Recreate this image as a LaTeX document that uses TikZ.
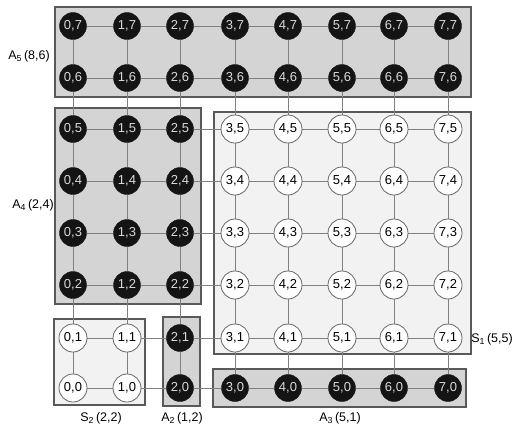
\documentclass[tikz,border=0pt]{standalone}
\usepackage{fontspec}
\setmainfont{Liberation Sans}
\usetikzlibrary{backgrounds}
\begin{document}
\begin{tikzpicture}[x=1pt,y=-1pt,
  blk/.style={circle, fill=black!92, draw=black!92, minimum size=27pt, inner sep=0pt, text=white!85!black, font=\fontsize{13}{15}\selectfont},
  wht/.style={circle, fill=white, draw=black!60, line width=0.8pt, minimum size=28pt, inner sep=0pt, text=black, font=\fontsize{13}{15}\selectfont},
  grp/.style={draw=black!65, line width=1.2pt, fill=black!17},
  sgrp/.style={draw=black!65, line width=1.2pt, fill=black!5},
  link/.style={draw=black!50, line width=0.9pt},
  lbl/.style={font=\fontsize{12.5}{14}\selectfont, inner sep=0pt}]
\useasboundingbox (0,0) rectangle (512,424);
\foreach \i/\px in {0/73,1/127,2/180,3/235,4/288,5/342,6/394,7/448}{
  \foreach \j/\py in {0/388,1/338,2/285,3/233,4/181,5/129,6/78,7/26}{
    \pgfmathtruncatemacro\isw{((\i>=3) && (\j>=1) && (\j<=5)) || ((\i<=1) && (\j<=1))}
    \ifnum\isw=1
      \node[wht] (n\i\j) at (\px,\py) {\i,\j};
    \else
      \node[blk] (n\i\j) at (\px,\py) {\i,\j};
    \fi
  }
}
\begin{scope}[on background layer]
  \draw[grp] (55,7) rectangle (471,97);
  \draw[grp] (55,108) rectangle (201,304);
  \draw[sgrp] (214,112) rectangle (471,354);
  \draw[sgrp] (54,319) rectangle (145,405);
  \draw[grp] (163,317) rectangle (200,406);
  \draw[grp] (213,369) rectangle (466,407);
  \foreach \i [evaluate=\i as \k using int(\i+1)] in {0,...,6}{
    \foreach \j in {0,...,7}{
      \draw[link] (n\i\j) -- (n\k\j);
    }
  }
  \foreach \j [evaluate=\j as \k using int(\j+1)] in {0,...,6}{
    \foreach \i in {0,...,7}{
      \draw[link] (n\i\j) -- (n\i\k);
    }
  }
\end{scope}
\node[lbl] (la5) at (29,56) {A\textsubscript{5}\,(8,6)};
\node[lbl] (la4) at (33,205) {A\textsubscript{4}\,(2,4)};
\node[lbl] (ls2) at (101,418) {S\textsubscript{2}\,(2,2)};
\node[lbl] (la2) at (182,418) {A\textsubscript{2}\,(1,2)};
\node[lbl] (la3) at (340,418) {A\textsubscript{3}\,(5,1)};
\node[lbl] (ls1) at (492,339) {S\textsubscript{1}\,(5,5)};
\end{tikzpicture}
\end{document}
